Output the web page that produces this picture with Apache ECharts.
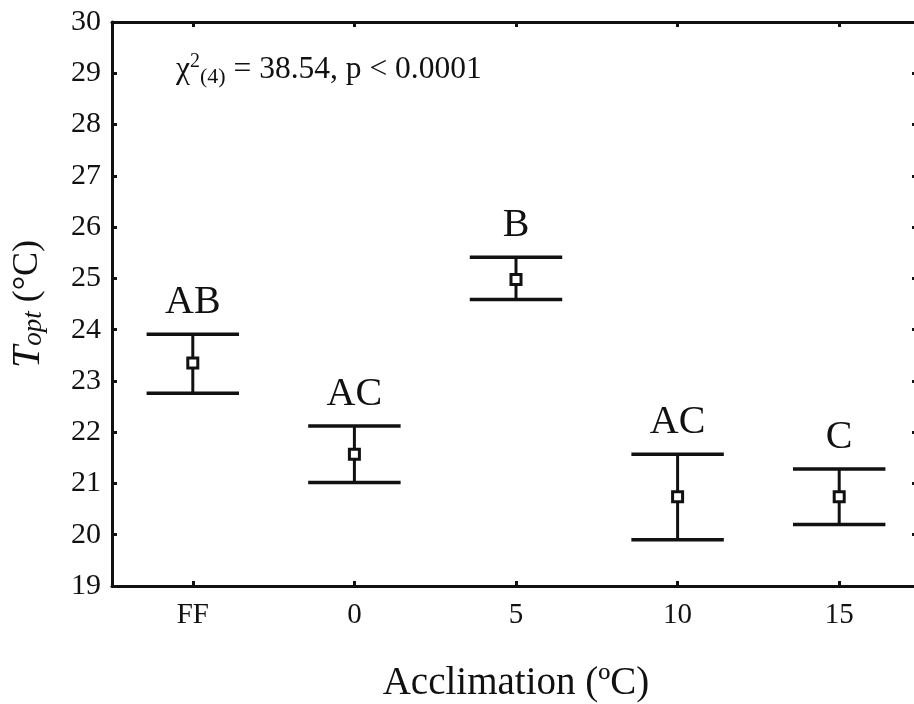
<!DOCTYPE html>
<html>
<head>
<meta charset="utf-8">
<script src="https://cdn.jsdelivr.net/npm/echarts@6/dist/echarts.min.js"></script>
<style>html,body{margin:0;padding:0;background:#fff;}#c{width:914px;height:704px;}</style>
</head>
<body>
<div id="c"></div>
<script>
var categories = ['FF', '0', '5', '10', '15'];
var means = [23.35, 21.57, 24.98, 20.74, 20.74];
var upper = [23.91, 22.12, 25.41, 21.57, 21.28];
var lower = [22.76, 21.02, 24.59, 19.90, 20.20];
var letters = ['AB', 'AC', 'B', 'AC', 'C'];
var yMin = 19, yMax = 30, yInterval = 1;
var statText = '{a|χ}{sup|2}{sub|(4)}{a| = 38.54, p < 0.0001}';

var FONT = '"Liberation Serif", "Times New Roman", serif';
var INK = '#111';

var errData = categories.map(function (c, i) { return [i, lower[i], upper[i]]; });
var meanData = categories.map(function (c, i) { return [i, means[i]]; });

var chart = echarts.init(document.getElementById('c'));
var axisCommon = {
  axisLine: { show: true, lineStyle: { color: INK, width: 3 } },
  splitLine: { show: false }
};
chart.setOption({
  animation: false,
  backgroundColor: '#fff',
  grid: { left: 112, top: 22, width: 808, height: 564, outerBoundsMode: 'none', containLabel: false },
  xAxis: [
    Object.assign({
      type: 'category', data: categories, position: 'bottom',
      axisTick: { show: true, inside: true, alignWithLabel: true, length: 5, lineStyle: { color: INK, width: 3 } },
      axisLabel: { fontFamily: FONT, fontSize: 29, color: INK, margin: 15 },
      name: 'Acclimation (ºC)', nameLocation: 'middle', nameGap: 78,
      nameTextStyle: { fontFamily: FONT, fontSize: 39, color: INK }
    }, axisCommon),
    Object.assign({
      type: 'category', data: categories, position: 'top',
      axisTick: { show: true, inside: true, alignWithLabel: true, length: 5, lineStyle: { color: INK, width: 3 } },
      axisLabel: { show: false }
    }, axisCommon)
  ],
  yAxis: [
    Object.assign({
      type: 'value', min: yMin, max: yMax, interval: yInterval, position: 'left',
      axisTick: { show: true, inside: true, length: 5, lineStyle: { color: INK, width: 3 } },
      axisLabel: { fontFamily: FONT, fontSize: 30, color: INK, margin: 11 },
      name: '{i|T}{s|opt}{n| (°C)}', nameLocation: 'middle', nameGap: 64,
      nameTextStyle: {
        fontFamily: FONT, fontSize: 36, color: INK,
        rich: {
          i: { fontFamily: FONT, fontSize: 40, fontStyle: 'italic', color: INK },
          s: { fontFamily: FONT, fontSize: 27, fontStyle: 'italic', color: INK, padding: [12, 0, 0, 0] },
          n: { fontFamily: FONT, fontSize: 36, color: INK }
        }
      }
    }, axisCommon),
    {
      type: 'value', min: yMin, max: yMax, interval: yInterval, position: 'right',
      axisLine: { show: false },
      splitLine: { show: false },
      axisTick: { show: true, inside: true, length: 8, lineStyle: { color: INK, width: 3 } },
      axisLabel: { show: false }
    }
  ],
  graphic: [{
    type: 'text', left: 176, top: 52,
    style: {
      text: statText,
      rich: {
        a: { fontFamily: FONT, fontSize: 31.5, fill: INK },
        sup: { fontFamily: FONT, fontSize: 20, fill: INK, padding: [0, 0, 16, 0] },
        sub: { fontFamily: FONT, fontSize: 22, fill: INK, padding: [14, 0, 0, 0] }
      }
    }
  }],
  series: [
    {
      type: 'custom', xAxisIndex: 0, yAxisIndex: 0, data: errData, z: 2,
      renderItem: function (params, api) {
        var x = api.value(0);
        var pLo = api.coord([x, api.value(1)]);
        var pHi = api.coord([x, api.value(2)]);
        var half = api.size([1, 0])[0] * 0.286;
        var letter = letters[params.dataIndex];
        return {
          type: 'group',
          children: [
            { type: 'line', shape: { x1: pHi[0], y1: pHi[1], x2: pLo[0], y2: pLo[1] }, style: { stroke: INK, lineWidth: 3 } },
            { type: 'line', shape: { x1: pHi[0] - half, y1: pHi[1], x2: pHi[0] + half, y2: pHi[1] }, style: { stroke: INK, lineWidth: 3.5 } },
            { type: 'line', shape: { x1: pLo[0] - half, y1: pLo[1], x2: pLo[0] + half, y2: pLo[1] }, style: { stroke: INK, lineWidth: 3.5 } },
            { type: 'text', style: { text: letter, x: pHi[0], y: pHi[1] - 32, align: 'center', verticalAlign: 'middle', fontFamily: FONT, fontSize: 40, fill: INK } }
          ]
        };
      }
    },
    {
      type: 'scatter', xAxisIndex: 0, yAxisIndex: 0, data: meanData, z: 3,
      symbol: 'rect', symbolSize: 10,
      itemStyle: { color: '#fff', borderColor: INK, borderWidth: 3, opacity: 1 }
    }
  ]
});
</script>
</body>
</html>
